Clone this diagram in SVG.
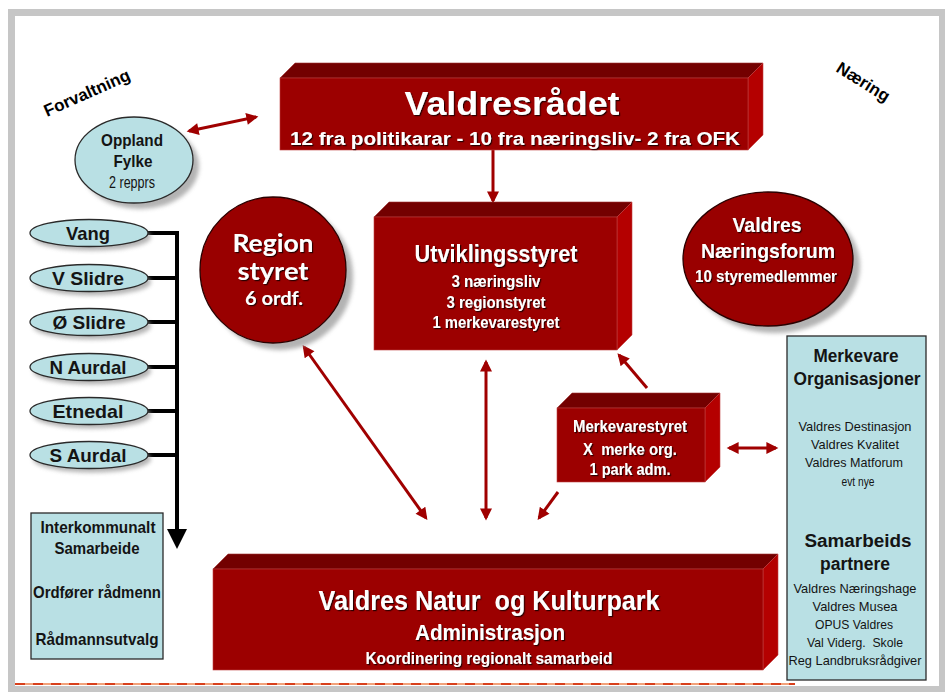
<svg xmlns="http://www.w3.org/2000/svg" width="945" height="692" viewBox="0 0 945 692">
<style>
.front{fill:#9c0000;stroke:#c04040;stroke-width:0.6}
.top{fill:#730000;stroke:#a03030;stroke-width:0.6}
.side{fill:#b40000;stroke:#c04040;stroke-width:0.6}
.blue{fill:#b9e0e4;stroke:#2a2a2a;stroke-width:1.3}
.redell{fill:#990000;stroke:#2a0000;stroke-width:1.3}
.shadow{fill:#9a9a9a;opacity:0.75}
.w{fill:#ffffff;font-family:"Liberation Sans Narrow","Liberation Sans",Arial,sans-serif;font-weight:bold;text-anchor:middle}
.wl{fill:#ffffff;font-family:Lato,"Open Sans","Liberation Sans",sans-serif;font-weight:bold;text-anchor:middle}
.d{fill:#141414;font-family:"Liberation Sans Narrow","Liberation Sans",Arial,sans-serif;font-weight:bold;text-anchor:middle}
.dn{fill:#141414;font-family:"Liberation Sans Narrow","Liberation Sans",Arial,sans-serif;font-weight:normal;text-anchor:middle}
.lab{fill:#000;font-family:"Liberation Sans",Arial,sans-serif;font-weight:bold;font-size:17px}
.arr{stroke:#a00000;stroke-width:3;fill:none}
.blk{stroke:#000;stroke-width:4;fill:none}
</style>
<defs>
<marker id="ah" viewBox="0 0 10 10" refX="8" refY="5" markerWidth="4.2" markerHeight="4" orient="auto-start-reverse" markerUnits="strokeWidth">
<path d="M0,0 L10,5 L0,10 z" fill="#a00000"/>
</marker>
<filter id="ts" x="-10%" y="-30%" width="120%" height="160%">
<feDropShadow dx="1.2" dy="1.2" stdDeviation="0.4" flood-color="#1a0000" flood-opacity="0.9"/>
</filter>
<filter id="blur" x="-20%" y="-20%" width="140%" height="140%">
<feGaussianBlur stdDeviation="2"/>
</filter>
</defs>

<!-- frame -->
<rect x="8" y="9" width="940" height="690" fill="#c6c6c6"/>
<rect x="15" y="16" width="924" height="670" fill="#ffffff"/>
<line x1="15" y1="684" x2="795" y2="684" stroke="#f2a27a" stroke-width="2"/>
<line x1="15" y1="684" x2="795" y2="684" stroke="#d8401c" stroke-width="2" stroke-dasharray="10 8"/>

<!-- labels -->
<text class="lab" transform="translate(47,117) rotate(-24)">Forvaltning</text>
<text class="lab" transform="translate(835,71) rotate(32)">Næring</text>

<!-- connectors -->
<g id="connectors">
<line class="arr" x1="189" y1="131" x2="256" y2="117" marker-start="url(#ah)" marker-end="url(#ah)"/>
<line class="arr" x1="493" y1="150" x2="493" y2="201" marker-end="url(#ah)"/>
<line class="arr" x1="304" y1="347" x2="426" y2="518" marker-start="url(#ah)" marker-end="url(#ah)"/>
<line class="arr" x1="486" y1="362" x2="486" y2="518" marker-start="url(#ah)" marker-end="url(#ah)"/>
<line class="arr" x1="647" y1="388" x2="619" y2="355" marker-end="url(#ah)"/>
<line class="arr" x1="558" y1="492" x2="539" y2="518" marker-end="url(#ah)"/>
<line class="arr" x1="729" y1="448" x2="776" y2="448" marker-start="url(#ah)" marker-end="url(#ah)"/>
<path class="blk" d="M148,233 H177 V531"/>
<line class="blk" x1="147" y1="278" x2="177" y2="278"/>
<line class="blk" x1="147" y1="322" x2="177" y2="322"/>
<line class="blk" x1="147" y1="367" x2="177" y2="367"/>
<line class="blk" x1="147" y1="411" x2="177" y2="411"/>
<line class="blk" x1="147" y1="455" x2="177" y2="455"/>
<polygon points="167,529 187,529 177,549" fill="#000"/>
</g>

<!-- Valdresrådet -->
<g id="valdresradet">
<polygon class="top" points="280,78 295,63 763,63 748,78"/>
<polygon class="side" points="748,78 763,63 763,135 748,150"/>
<rect class="front" x="280" y="78" width="468" height="72"/>
<g filter="url(#ts)">
<text class="w" x="512" y="115" font-size="33" textLength="215" lengthAdjust="spacingAndGlyphs" style="font-family:'Liberation Sans',Arial,sans-serif">Valdresrådet</text>
<text class="w" x="515" y="145" font-size="18" textLength="450" lengthAdjust="spacingAndGlyphs" style="font-family:'Liberation Sans',Arial,sans-serif">12 fra politikarar - 10 fra næringsliv- 2 fra OFK</text>
</g>
</g>

<!-- Oppland Fylke -->
<g id="oppland">
<ellipse class="shadow" cx="140" cy="166" rx="59" ry="43" filter="url(#blur)"/>
<ellipse class="blue" cx="134" cy="160" rx="59" ry="43"/>
<text class="d" x="132" y="146" font-size="17" textLength="62" lengthAdjust="spacingAndGlyphs">Oppland</text>
<text class="d" x="133" y="167" font-size="17" textLength="39" lengthAdjust="spacingAndGlyphs">Fylke</text>
<text class="dn" x="132" y="188" font-size="16" textLength="46" lengthAdjust="spacingAndGlyphs">2 repprs</text>
</g>

<!-- Region styret -->
<g id="regionstyret">
<circle class="shadow" cx="280" cy="277" r="73" filter="url(#blur)"/>
<circle class="redell" cx="273" cy="270" r="73"/>
<g filter="url(#ts)">
<text class="wl" x="273" y="252" font-size="25" textLength="81" lengthAdjust="spacingAndGlyphs">Region</text>
<text class="wl" x="273" y="280" font-size="25" textLength="71" lengthAdjust="spacingAndGlyphs">styret</text>
<text class="wl" x="274" y="305" font-size="18" textLength="58" lengthAdjust="spacingAndGlyphs">6 ordf.</text>
</g>
</g>

<!-- Utviklingsstyret -->
<g id="utviklingsstyret">
<polygon class="top" points="374,217 389,202 632,202 617,217"/>
<polygon class="side" points="617,217 632,202 632,335 617,350"/>
<rect class="front" x="374" y="217" width="243" height="133"/>
<g filter="url(#ts)">
<text class="w" x="496" y="262" font-size="24" textLength="163" lengthAdjust="spacingAndGlyphs">Utviklingsstyret</text>
<text class="w" x="496" y="287" font-size="16" textLength="89" lengthAdjust="spacingAndGlyphs">3 næringsliv</text>
<text class="w" x="496" y="308" font-size="16" textLength="99" lengthAdjust="spacingAndGlyphs">3 regionstyret</text>
<text class="w" x="496" y="328" font-size="16" textLength="127" lengthAdjust="spacingAndGlyphs">1 merkevarestyret</text>
</g>
</g>

<!-- Valdres Næringsforum -->
<g id="naeringsforum">
<ellipse class="shadow" cx="775" cy="266" rx="85" ry="67" filter="url(#blur)"/>
<ellipse class="redell" cx="768" cy="259" rx="85" ry="67"/>
<g filter="url(#ts)">
<text class="w" x="767" y="232" font-size="21" textLength="69" lengthAdjust="spacingAndGlyphs" style="font-family:'Liberation Sans',Arial,sans-serif">Valdres</text>
<text class="w" x="768" y="258" font-size="21" textLength="134" lengthAdjust="spacingAndGlyphs" style="font-family:'Liberation Sans',Arial,sans-serif">Næringsforum</text>
<text class="w" x="766" y="282" font-size="17" textLength="142" lengthAdjust="spacingAndGlyphs">10 styremedlemmer</text>
</g>
</g>

<!-- municipalities -->
<g id="vang">
<ellipse class="shadow" cx="92" cy="237" rx="59" ry="13.5" filter="url(#blur)" opacity="0.4"/>
<ellipse class="blue" cx="89" cy="233" rx="59" ry="13.5"/>
<text class="d" x="88" y="240" font-size="19" textLength="44" lengthAdjust="spacingAndGlyphs">Vang</text>
</g>
<g id="vslidre">
<ellipse class="shadow" cx="92" cy="282" rx="59" ry="13.5" filter="url(#blur)" opacity="0.4"/>
<ellipse class="blue" cx="89" cy="278" rx="59" ry="13.5"/>
<text class="d" x="88" y="285" font-size="19" textLength="72" lengthAdjust="spacingAndGlyphs">V Slidre</text>
</g>
<g id="oslidre">
<ellipse class="shadow" cx="92" cy="326" rx="59" ry="13.5" filter="url(#blur)" opacity="0.4"/>
<ellipse class="blue" cx="89" cy="322" rx="59" ry="13.5"/>
<text class="d" x="89" y="329" font-size="19" textLength="73" lengthAdjust="spacingAndGlyphs">Ø Slidre</text>
</g>
<g id="naurdal">
<ellipse class="shadow" cx="92" cy="371" rx="59" ry="13.5" filter="url(#blur)" opacity="0.4"/>
<ellipse class="blue" cx="89" cy="367" rx="59" ry="13.5"/>
<text class="d" x="88" y="374" font-size="19" textLength="77" lengthAdjust="spacingAndGlyphs">N Aurdal</text>
</g>
<g id="etnedal">
<ellipse class="shadow" cx="92" cy="415" rx="59" ry="13.5" filter="url(#blur)" opacity="0.4"/>
<ellipse class="blue" cx="89" cy="411" rx="59" ry="13.5"/>
<text class="d" x="88" y="418" font-size="19" textLength="71" lengthAdjust="spacingAndGlyphs">Etnedal</text>
</g>
<g id="saurdal">
<ellipse class="shadow" cx="92" cy="459" rx="59" ry="13.5" filter="url(#blur)" opacity="0.4"/>
<ellipse class="blue" cx="89" cy="455" rx="59" ry="13.5"/>
<text class="d" x="88" y="462" font-size="19" textLength="77" lengthAdjust="spacingAndGlyphs">S Aurdal</text>
</g>

<!-- Interkommunalt -->
<g id="interkommunalt">
<rect class="blue" x="31" y="513" width="132" height="146"/>
<text class="d" x="98" y="533" font-size="17" textLength="115" lengthAdjust="spacingAndGlyphs">Interkommunalt</text>
<text class="d" x="97" y="554" font-size="17" textLength="85" lengthAdjust="spacingAndGlyphs">Samarbeide</text>
<text class="d" x="97" y="598" font-size="17" textLength="128" lengthAdjust="spacingAndGlyphs">Ordfører rådmenn</text>
<text class="d" x="97" y="645" font-size="17" textLength="123" lengthAdjust="spacingAndGlyphs">Rådmannsutvalg</text>
</g>

<!-- Merkevarestyret -->
<g id="merkevarestyret">
<polygon class="top" points="557,408 572,393 720,393 705,408"/>
<polygon class="side" points="705,408 720,393 720,467 705,482"/>
<rect class="front" x="557" y="408" width="148" height="74"/>
<g filter="url(#ts)">
<text class="w" x="630" y="432" font-size="17" textLength="114" lengthAdjust="spacingAndGlyphs">Merkevarestyret</text>
<text class="w" x="630" y="455" font-size="17" textLength="94" lengthAdjust="spacingAndGlyphs" xml:space="preserve">X  merke org.</text>
<text class="w" x="630" y="475" font-size="17" textLength="81" lengthAdjust="spacingAndGlyphs">1 park adm.</text>
</g>
</g>

<!-- Merkevare Organisasjoner -->
<g id="merkevareorg">
<rect class="blue" x="787" y="336" width="139" height="344"/>
<text class="d" x="856" y="362" font-size="19" textLength="85" lengthAdjust="spacingAndGlyphs">Merkevare</text>
<text class="d" x="857" y="385" font-size="19" textLength="127" lengthAdjust="spacingAndGlyphs">Organisasjoner</text>
<text class="dn" x="855" y="431" font-size="13" textLength="113" lengthAdjust="spacingAndGlyphs">Valdres Destinasjon</text>
<text class="dn" x="855" y="449" font-size="13" textLength="88" lengthAdjust="spacingAndGlyphs">Valdres Kvalitet</text>
<text class="dn" x="854" y="467" font-size="13" textLength="98" lengthAdjust="spacingAndGlyphs">Valdres Matforum</text>
<text class="dn" x="858" y="486" font-size="13" textLength="33" lengthAdjust="spacingAndGlyphs">evt nye</text>
<text class="d" x="858" y="547" font-size="18" textLength="107" lengthAdjust="spacingAndGlyphs" style="font-family:'Liberation Sans',Arial,sans-serif">Samarbeids</text>
<text class="d" x="855" y="570" font-size="18" textLength="70" lengthAdjust="spacingAndGlyphs" style="font-family:'Liberation Sans',Arial,sans-serif">partnere</text>
<text class="dn" x="855" y="593" font-size="13" textLength="123" lengthAdjust="spacingAndGlyphs">Valdres Næringshage</text>
<text class="dn" x="855" y="611" font-size="13" textLength="85" lengthAdjust="spacingAndGlyphs">Valdres Musea</text>
<text class="dn" x="854" y="629" font-size="13" textLength="78" lengthAdjust="spacingAndGlyphs">OPUS Valdres</text>
<text class="dn" x="855" y="647" font-size="13" textLength="96" lengthAdjust="spacingAndGlyphs" xml:space="preserve">Val Viderg.  Skole</text>
<text class="dn" x="855" y="665" font-size="13" textLength="133" lengthAdjust="spacingAndGlyphs">Reg Landbruksrådgiver</text>
</g>

<!-- Valdres Natur og Kulturpark -->
<g id="naturpark">
<polygon class="top" points="213,569 228,554 778,554 763,569"/>
<polygon class="side" points="763,569 778,554 778,655 763,670"/>
<rect class="front" x="213" y="569" width="550" height="101"/>
<g filter="url(#ts)">
<text class="w" x="489" y="610" font-size="28" textLength="341" lengthAdjust="spacingAndGlyphs" xml:space="preserve">Valdres Natur  og Kulturpark</text>
<text class="w" x="490" y="640" font-size="22" textLength="150" lengthAdjust="spacingAndGlyphs">Administrasjon</text>
<text class="w" x="489" y="664" font-size="17" textLength="247" lengthAdjust="spacingAndGlyphs">Koordinering regionalt samarbeid</text>
</g>
</g>
</svg>
